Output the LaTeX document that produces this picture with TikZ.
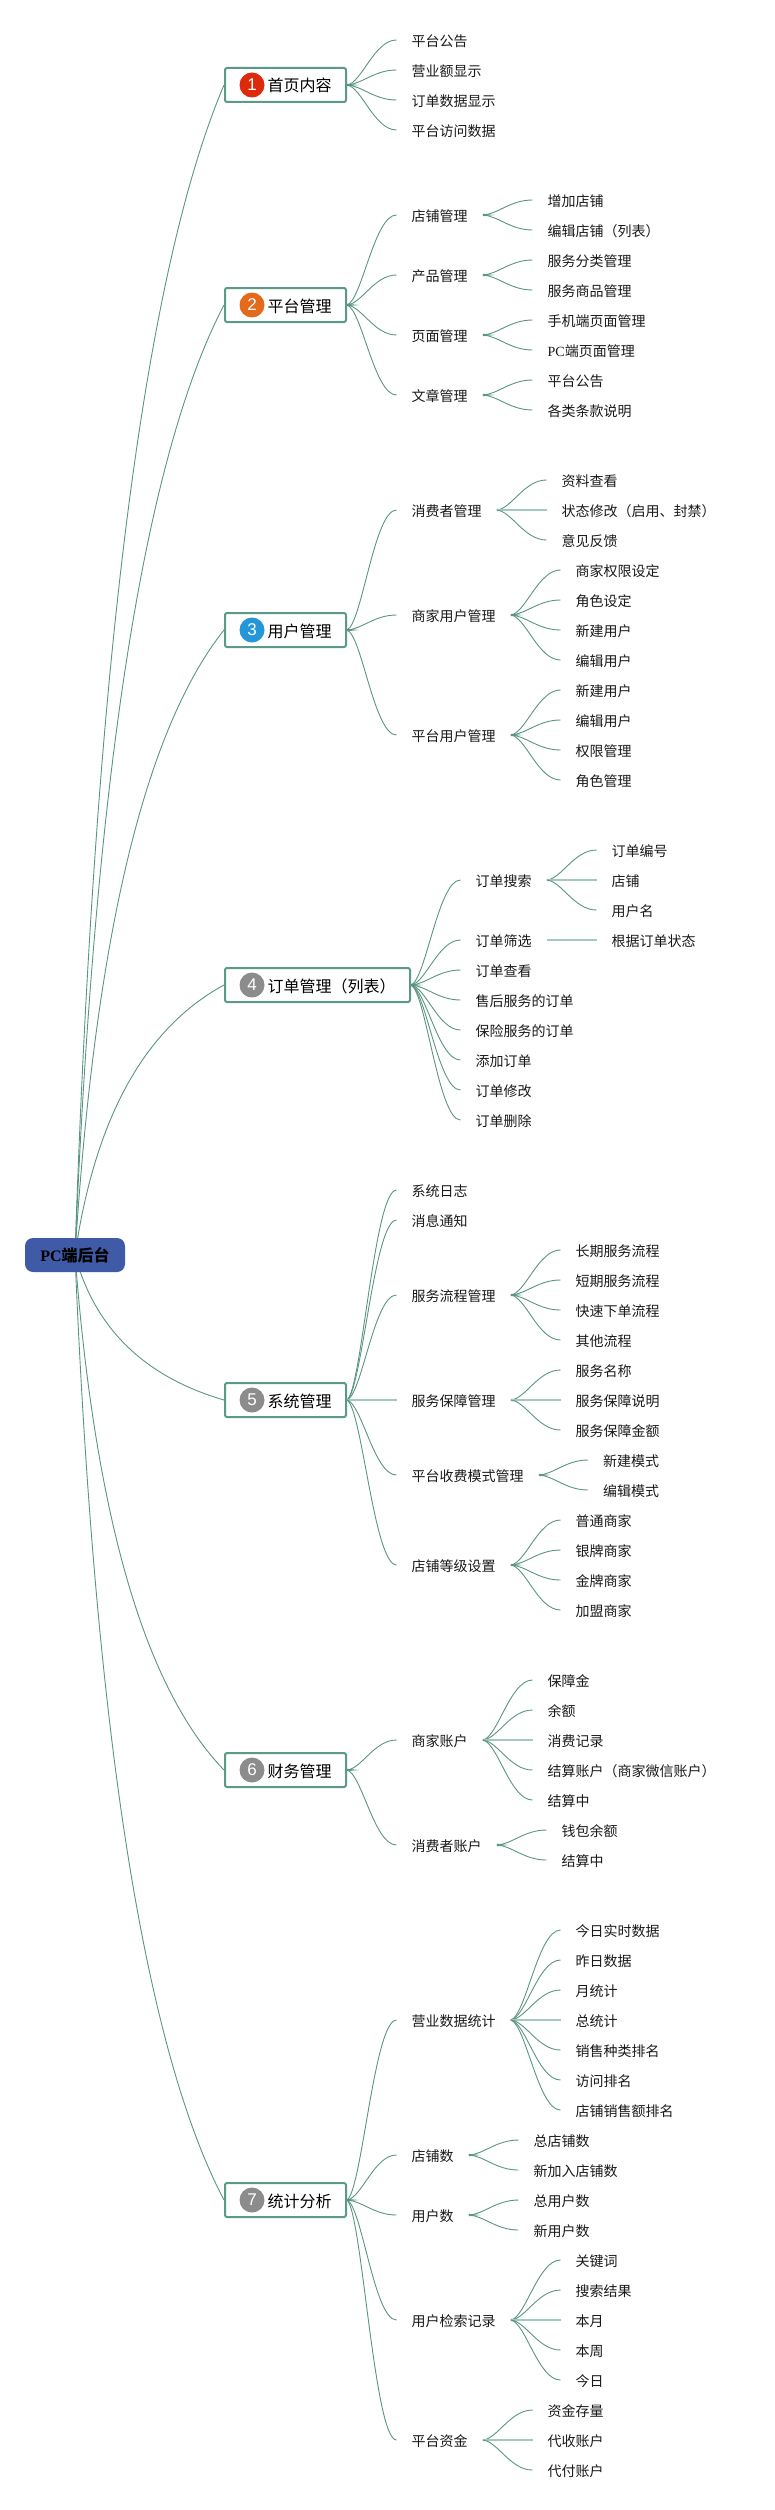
\documentclass[tikz,border=0pt]{standalone}
\usepackage{fontspec}
\setmainfont{Noto Sans CJK SC}
\newfontfamily\latf{Liberation Serif}
\newfontfamily\digf{Liberation Sans}
\usetikzlibrary{calc,backgrounds}
\definecolor{linkc}{HTML}{5A9583}
\definecolor{flatc}{HTML}{A3C9BA}
\definecolor{boxc}{HTML}{5B9A87}
\definecolor{rootc}{HTML}{3F5AA6}
\definecolor{redc}{HTML}{DD2A0C}
\definecolor{orc}{HTML}{E4691A}
\definecolor{bluec}{HTML}{2596D8}
\definecolor{grayc}{HTML}{8C8C8C}
\tikzset{
  x=1pt,y=-1pt,
  link/.style={draw=linkc,line width=0.9pt},
  flat/.style={draw=flatc,line width=1.6pt},
  hubfill/.style={fill=boxc},
  leaf/.style={anchor=west,inner xsep=15pt,inner ysep=0pt,text height=13.6pt,text depth=1pt,font=\fontsize{14pt}{16pt}\selectfont,text=black!90},
  topic/.style={anchor=west,draw=boxc,line width=2pt,fill=white,rounded corners=2pt,inner xsep=14pt,inner ysep=0pt,minimum height=34pt,text height=15pt,text depth=1pt,font=\fontsize{16pt}{18pt}\selectfont,text=black},
  badge/.style={circle,inner sep=0pt,minimum size=25pt,text=white,font=\digf\fontsize{17pt}{18pt}\selectfont},
  rootbox/.style={fill=rootc,rounded corners=8pt,minimum width=100pt,minimum height=34pt,inner sep=0pt,text=black,font=\bfseries\fontsize{16pt}{18pt}\selectfont},
}
\newcommand\lkS[2]{\draw[link] let \p1=(#1.east),\p2=(#2.west) in (\p1) .. controls ({\x1+.3*(\x2-\x1)},{\y1+.05*(\y2-\y1)}) and ({\x1+.55*(\x2-\x1)},\y2) .. (\p2);}
\newcommand\kid[5]{\node[leaf] (#2) at (#3,#4) {#5};\begin{scope}[on background layer]\lkS{#1}{#2}\end{scope}}
\newcommand\kidF[5]{\node[leaf] (#2) at (#3,#4) {#5};\begin{scope}[on background layer]\draw[flat] (#1.east) -- (#2.west);\end{scope}}
\newcommand\hub[1]{\begin{scope}[on background layer]\fill[hubfill] ($(#1.east)+(0,-1.2)$) -- ($(#1.east)+(12,0)$) -- ($(#1.east)+(0,1.2)$) -- cycle;\end{scope}}
\newcommand\tpc[5]{\node[topic] (#1) at (224,#2) {\hspace*{28.5pt}#5\hspace*{.5pt}};\node[badge,fill=#3] (b#1) at (252,#2) {#4};\begin{scope}[on background layer]\draw[link] let \p1=(root.center),\p2=(#1.west) in (\p1) .. controls ({\x1+.1333*(\x2-\x1)},{\y1+.5067*(\y2-\y1)}) and ({\x1+.4667*(\x2-\x1)},{\y1+.84*(\y2-\y1)}) .. (\p2);\end{scope}\hub{#1}}
\begin{document}
\begin{tikzpicture}
\useasboundingbox (0,0) rectangle (775,2510);
\node[rootbox] (root) at (75,1255) {{\latf PC}端后台};
% 1
\tpc{t1}{85}{redc}{1}{首页内容}
\kid{t1}{a1}{396.5}{40}{平台公告}
\kid{t1}{a2}{396.5}{70}{营业额显示}
\kid{t1}{a3}{396.5}{100}{订单数据显示}
\kid{t1}{a4}{396.5}{130}{平台访问数据}
% 2
\tpc{t2}{305}{orc}{2}{平台管理}
\kid{t2}{b1}{396.5}{215}{店铺管理}\hub{b1}
\kid{b1}{b11}{532.5}{200}{增加店铺}
\kid{b1}{b12}{532.5}{230}{编辑店铺（列表）}
\kid{t2}{b2}{396.5}{275}{产品管理}\hub{b2}
\kid{b2}{b21}{532.5}{260}{服务分类管理}
\kid{b2}{b22}{532.5}{290}{服务商品管理}
\kid{t2}{b3}{396.5}{335}{页面管理}\hub{b3}
\kid{b3}{b31}{532.5}{320}{手机端页面管理}
\kid{b3}{b32}{532.5}{350}{{\latf PC}端页面管理}
\kid{t2}{b4}{396.5}{395}{文章管理}\hub{b4}
\kid{b4}{b41}{532.5}{380}{平台公告}
\kid{b4}{b42}{532.5}{410}{各类条款说明}
% 3
\tpc{t3}{630}{bluec}{3}{用户管理}
\kid{t3}{c1}{396.5}{510}{消费者管理}\hub{c1}
\kid{c1}{c11}{546.5}{480}{资料查看}
\kidF{c1}{c12}{546.5}{510}{状态修改（启用、封禁）}
\kid{c1}{c13}{546.5}{540}{意见反馈}
\kid{t3}{c2}{396.5}{615}{商家用户管理}\hub{c2}
\kid{c2}{c21}{560.5}{570}{商家权限设定}
\kid{c2}{c22}{560.5}{600}{角色设定}
\kid{c2}{c23}{560.5}{630}{新建用户}
\kid{c2}{c24}{560.5}{660}{编辑用户}
\kid{t3}{c3}{396.5}{735}{平台用户管理}\hub{c3}
\kid{c3}{c31}{560.5}{690}{新建用户}
\kid{c3}{c32}{560.5}{720}{编辑用户}
\kid{c3}{c33}{560.5}{750}{权限管理}
\kid{c3}{c34}{560.5}{780}{角色管理}
% 4
\tpc{t4}{985}{grayc}{4}{订单管理（列表）}
\kid{t4}{d1}{460.5}{880}{订单搜索}\hub{d1}
\kid{d1}{d11}{596.5}{850}{订单编号}
\kidF{d1}{d12}{596.5}{880}{店铺}
\kid{d1}{d13}{596.5}{910}{用户名}
\kid{t4}{d2}{460.5}{940}{订单筛选}
\kidF{d2}{d21}{596.5}{940}{根据订单状态}
\kid{t4}{d3}{460.5}{970}{订单查看}
\kid{t4}{d4}{460.5}{1000}{售后服务的订单}
\kid{t4}{d5}{460.5}{1030}{保险服务的订单}
\kid{t4}{d6}{460.5}{1060}{添加订单}
\kid{t4}{d7}{460.5}{1090}{订单修改}
\kid{t4}{d8}{460.5}{1120}{订单删除}
% 5
\tpc{t5}{1400}{grayc}{5}{系统管理}
\kid{t5}{e1}{396.5}{1190}{系统日志}
\kid{t5}{e2}{396.5}{1220}{消息通知}
\kid{t5}{e3}{396.5}{1295}{服务流程管理}\hub{e3}
\kid{e3}{e31}{560.5}{1250}{长期服务流程}
\kid{e3}{e32}{560.5}{1280}{短期服务流程}
\kid{e3}{e33}{560.5}{1310}{快速下单流程}
\kid{e3}{e34}{560.5}{1340}{其他流程}
\kidF{t5}{e4}{396.5}{1400}{服务保障管理}\hub{e4}
\kid{e4}{e41}{560.5}{1370}{服务名称}
\kidF{e4}{e42}{560.5}{1400}{服务保障说明}
\kid{e4}{e43}{560.5}{1430}{服务保障金额}
\kid{t5}{e5}{396.5}{1475}{平台收费模式管理}\hub{e5}
\kid{e5}{e51}{588}{1460}{新建模式}
\kid{e5}{e52}{588}{1490}{编辑模式}
\kid{t5}{e6}{396.5}{1565}{店铺等级设置}\hub{e6}
\kid{e6}{e61}{560.5}{1520}{普通商家}
\kid{e6}{e62}{560.5}{1550}{银牌商家}
\kid{e6}{e63}{560.5}{1580}{金牌商家}
\kid{e6}{e64}{560.5}{1610}{加盟商家}
% 6
\tpc{t6}{1770}{grayc}{6}{财务管理}
\kid{t6}{f1}{396.5}{1740}{商家账户}\hub{f1}
\kid{f1}{f11}{532.5}{1680}{保障金}
\kid{f1}{f12}{532.5}{1710}{余额}
\kidF{f1}{f13}{532.5}{1740}{消费记录}
\kid{f1}{f14}{532.5}{1770}{结算账户（商家微信账户）}
\kid{f1}{f15}{532.5}{1800}{结算中}
\kid{t6}{f2}{396.5}{1845}{消费者账户}\hub{f2}
\kid{f2}{f21}{546.5}{1830}{钱包余额}
\kid{f2}{f22}{546.5}{1860}{结算中}
% 7
\tpc{t7}{2200}{grayc}{7}{统计分析}
\kid{t7}{g1}{396.5}{2020}{营业数据统计}\hub{g1}
\kid{g1}{g11}{560.5}{1930}{今日实时数据}
\kid{g1}{g12}{560.5}{1960}{昨日数据}
\kid{g1}{g13}{560.5}{1990}{月统计}
\kidF{g1}{g14}{560.5}{2020}{总统计}
\kid{g1}{g15}{560.5}{2050}{销售种类排名}
\kid{g1}{g16}{560.5}{2080}{访问排名}
\kid{g1}{g17}{560.5}{2110}{店铺销售额排名}
\kid{t7}{g2}{396.5}{2155}{店铺数}\hub{g2}
\kid{g2}{g21}{518.5}{2140}{总店铺数}
\kid{g2}{g22}{518.5}{2170}{新加入店铺数}
\kid{t7}{g3}{396.5}{2215}{用户数}\hub{g3}
\kid{g3}{g31}{518.5}{2200}{总用户数}
\kid{g3}{g32}{518.5}{2230}{新用户数}
\kid{t7}{g4}{396.5}{2320}{用户检索记录}\hub{g4}
\kid{g4}{g41}{560.5}{2260}{关键词}
\kid{g4}{g42}{560.5}{2290}{搜索结果}
\kidF{g4}{g43}{560.5}{2320}{本月}
\kid{g4}{g44}{560.5}{2350}{本周}
\kid{g4}{g45}{560.5}{2380}{今日}
\kid{t7}{g5}{396.5}{2440}{平台资金}\hub{g5}
\kid{g5}{g51}{532.5}{2410}{资金存量}
\kidF{g5}{g52}{532.5}{2440}{代收账户}
\kid{g5}{g53}{532.5}{2470}{代付账户}
\end{tikzpicture}
\end{document}
